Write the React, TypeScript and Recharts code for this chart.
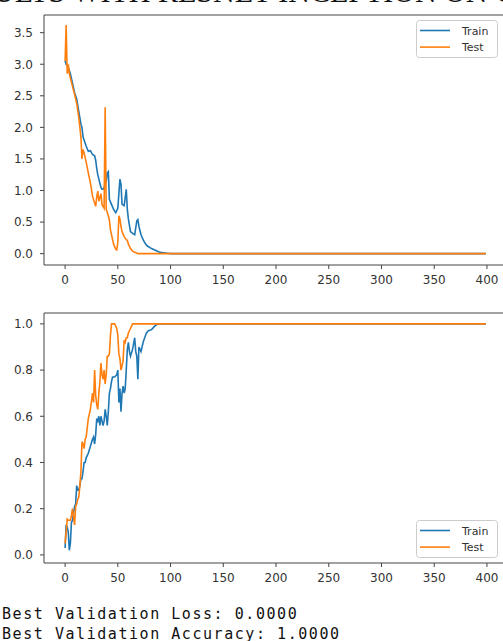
import { Legend, Line, LineChart, ReferenceLine, XAxis, YAxis } from "recharts";

const lossEpochs = [
  0, 1, 2, 3, 4, 5, 7, 9, 11, 13, 15, 16, 17, 18, 20, 22, 24, 26, 28, 29, 30,
  31, 32, 34, 35, 36, 37, 38, 39, 40, 41, 42, 43, 44, 46, 48, 49, 50, 51, 52,
  53, 54, 56, 58, 59, 60, 62, 64, 66, 68, 69, 70, 72, 74, 76, 78, 82, 86, 90,
  95, 100, 150, 200, 250, 300, 350, 399,
];
const trainLoss = [
  3.05, 3.0, 2.98, 2.95, 2.9, 2.85, 2.7, 2.55, 2.45, 2.25, 2.05, 2.0, 1.85,
  1.8, 1.7, 1.62, 1.63, 1.57, 1.55, 1.48, 1.35, 1.25, 1.18, 1.05, 1.02, 1.02,
  1.05, 1.1, 1.15, 1.28, 1.3, 0.86, 0.82, 0.78, 0.7, 0.65, 0.68, 0.72, 0.95,
  1.18, 1.1, 0.78, 0.76, 1.02, 0.7, 0.55, 0.35, 0.32, 0.3, 0.52, 0.54, 0.43,
  0.3, 0.22, 0.16, 0.12, 0.08, 0.05, 0.02, 0.01, 0.0, 0.0, 0.0, 0.0, 0.0, 0.0,
  0.0,
];
const testLoss = [
  3.05, 3.62, 2.85, 3.0, 2.85, 2.78, 2.65, 2.52, 2.38, 2.15, 1.85, 1.5, 1.65,
  1.6, 1.45, 1.28, 1.12, 0.91, 0.8, 0.75, 0.9, 0.99, 0.83, 0.95, 0.78, 0.75,
  0.72, 2.32, 0.7, 0.65, 0.6, 0.53, 0.38, 0.3, 0.15, 0.07, 0.06, 0.18, 0.6,
  0.55, 0.43, 0.35, 0.27, 0.22, 0.21, 0.15, 0.08, 0.04, 0.02, 0.01, 0.0, 0.0,
  0.0, 0.0, 0.0, 0.0, 0.0, 0.0, 0.0, 0.0, 0.0, 0.0, 0.0, 0.0, 0.0, 0.0, 0.0,
];

const accEpochs = [
  0, 1, 2, 3, 4, 5, 6, 7, 9, 10, 11, 12, 13, 14, 15, 16, 17, 18, 19, 20, 22,
  24, 26, 27, 28, 29, 30, 31, 32, 33, 34, 35, 36, 37, 38, 39, 40, 41, 42, 43,
  44, 45, 47, 49, 50, 51, 52, 53, 54, 55, 56, 57, 58, 59, 60, 61, 62, 64, 66,
  67, 68, 69, 70, 72, 74, 77, 79, 82, 85, 88, 100, 150, 200, 250, 300, 350,
  399,
];
const trainAcc = [
  0.03, 0.13, 0.12, 0.1, 0.02, 0.05, 0.14, 0.15, 0.21, 0.22, 0.3, 0.28, 0.28,
  0.3, 0.33, 0.33, 0.36, 0.4, 0.4, 0.42, 0.44, 0.47, 0.5, 0.51, 0.48, 0.52,
  0.59, 0.58, 0.6, 0.56, 0.6, 0.58, 0.56, 0.58, 0.63, 0.6, 0.56, 0.62, 0.7,
  0.72, 0.75, 0.77, 0.77, 0.78, 0.8, 0.66, 0.72, 0.62, 0.7, 0.73, 0.7, 0.72,
  0.8, 0.89, 0.92, 0.88, 0.86, 0.89, 0.94, 0.88, 0.86, 0.76, 0.9, 0.88, 0.92,
  0.96, 0.97, 0.975, 0.99, 1.0, 1.0, 1.0, 1.0, 1.0, 1.0, 1.0, 1.0,
];
const testAcc = [
  0.05, 0.1, 0.155, 0.15, 0.15, 0.15, 0.17, 0.2, 0.13, 0.21, 0.22, 0.24, 0.25,
  0.3, 0.36, 0.49, 0.48, 0.46, 0.5, 0.51, 0.59, 0.63, 0.7, 0.66, 0.8, 0.69,
  0.65, 0.63, 0.7, 0.75, 0.83, 0.78, 0.76, 0.8, 0.74, 0.78, 0.86, 0.86, 0.87,
  0.95, 1.0, 1.0, 1.0, 0.98, 0.95, 0.87, 0.85, 0.8, 0.82, 0.84, 0.93, 0.92,
  0.94, 0.94, 0.96, 0.97, 0.98, 1.0, 1.0, 1.0, 1.0, 1.0, 1.0, 1.0, 1.0, 1.0,
  1.0, 1.0, 1.0, 1.0, 1.0, 1.0, 1.0, 1.0, 1.0, 1.0, 1.0,
];

const xTicks = [0, 50, 100, 150, 200, 250, 300, 350, 400];
const lossTicks = [0, 0.5, 1.0, 1.5, 2.0, 2.5, 3.0, 3.5];
const accTicks = [0, 0.2, 0.4, 0.6, 0.8, 1.0];
const seriesNames = ["Train", "Test"];
const summaryLines = [
  "Best Validation Loss: 0.0000",
  "Best Validation Accuracy: 1.0000",
];

const BLUE = "#1f77b4";
const ORANGE = "#ff7f0e";
const SPINE = "#444";
const tickStyle = { fontSize: 12, fill: "#333", fontFamily: "DejaVu Sans" };

const lossData = lossEpochs.map((epoch, i) => ({
  epoch,
  train: trainLoss[i],
  test: testLoss[i],
}));
const accData = accEpochs.map((epoch, i) => ({
  epoch,
  train: trainAcc[i],
  test: testAcc[i],
}));

const LegendBox = () => (
  <svg width={82} height={38}>
    <rect x={0.5} y={0.5} width={81} height={37} rx={3} fill="#fff" stroke="#ccc" />
    {seriesNames.map((name, i) => (
      <g key={name}>
        <line
          x1={4}
          x2={34}
          y1={10.5 + i * 16.6}
          y2={10.5 + i * 16.6}
          stroke={i === 0 ? BLUE : ORANGE}
          strokeWidth={1.6}
        />
        <text
          x={46}
          y={14.5 + i * 16.6}
          fontSize={11}
          fill="#333"
          fontFamily="DejaVu Sans"
        >
          {name}
        </text>
      </g>
    ))}
  </svg>
);

type PanelProps = {
  data: { epoch: number; train: number; test: number }[];
  yDomain: [number, number];
  yTicks: number[];
  legendTop: number;
};

const Panel = ({ data, yDomain, yTicks, legendTop }: PanelProps) => (
  <LineChart
    width={530}
    height={300}
    data={data}
    margin={{ top: 15, right: 23, bottom: 5, left: 0 }}
  >
    <XAxis
      dataKey="epoch"
      type="number"
      domain={[-20, 419]}
      ticks={xTicks}
      height={30}
      tick={tickStyle}
      tickSize={4}
      tickMargin={6}
      stroke={SPINE}
      interval={0}
    />
    <YAxis
      type="number"
      domain={yDomain}
      ticks={yTicks}
      width={44}
      tick={tickStyle}
      tickSize={4}
      tickMargin={7}
      tickFormatter={(v: number) => v.toFixed(1)}
      stroke={SPINE}
      interval={0}
      allowDataOverflow
    />
    {/* top spine */}
    <ReferenceLine y={yDomain[1]} stroke={SPINE} ifOverflow="visible" />
    {/* horizontal + middle keeps the legend from eating plot space */}
    <Legend
      layout="horizontal"
      verticalAlign="middle"
      align="center"
      content={() => <LegendBox />}
      wrapperStyle={{ left: 416, top: legendTop, width: 82, height: 38 }}
    />
    <Line
      type="linear"
      dataKey="train"
      name="Train"
      stroke={BLUE}
      strokeWidth={1.6}
      dot={false}
      isAnimationActive={false}
    />
    <Line
      type="linear"
      dataKey="test"
      name="Test"
      stroke={ORANGE}
      strokeWidth={1.6}
      dot={false}
      isAnimationActive={false}
    />
  </LineChart>
);

const App = () => {
  return (
    <div
      style={{
        position: "fixed",
        left: 0,
        top: 0,
        width: 503,
        height: 641,
        overflow: "hidden",
        background: "#fff",
      }}
    >
      <div
        style={{
          position: "absolute",
          left: -62,
          top: -23,
          fontFamily: "Liberation Serif",
          fontSize: 30,
          lineHeight: "30px",
          whiteSpace: "nowrap",
          color: "#111",
        }}
      >
        RESULTS WITH RESNET INCEPTION ON CHEST
      </div>
      <div style={{ position: "absolute", left: 0, top: 0 }}>
        <Panel data={lossData} yDomain={[-0.18, 3.78]} yTicks={lossTicks} legendTop={20} />
      </div>
      <div style={{ position: "absolute", left: 0, top: 298 }}>
        <Panel data={accData} yDomain={[-0.035, 1.047]} yTicks={accTicks} legendTop={222} />
      </div>
      <div
        style={{
          position: "absolute",
          left: 2,
          top: 604,
          fontFamily: "DejaVu Sans Mono",
          fontSize: 15,
          lineHeight: "20px",
          letterSpacing: 1.55,
          color: "#111",
          whiteSpace: "pre",
        }}
      >
        {summaryLines.map((s) => (
          <div key={s}>{s}</div>
        ))}
      </div>
    </div>
  );
};

export default App;
